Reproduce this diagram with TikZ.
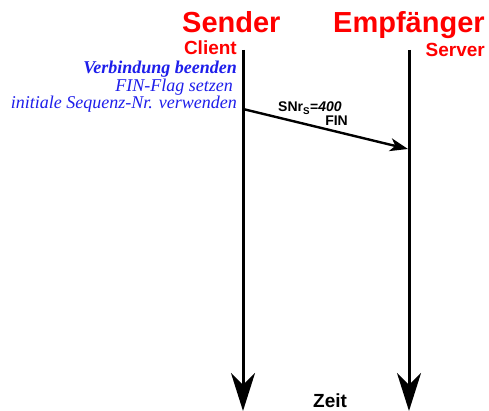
\documentclass[tikz,border=0pt]{standalone}
\usepackage{fontspec}
\setmainfont{Liberation Serif}
\setsansfont{Liberation Sans}
\usetikzlibrary{arrows.meta}
\definecolor{hdred}{RGB}{255,0,0}
\definecolor{txtblue}{RGB}{30,30,235}
\begin{document}
\begin{tikzpicture}[x=1pt,y=-1pt,
  lifeline/.style={line width=3pt,-{Stealth[length=38pt,width=24pt,inset=12pt]}},
  msg/.style={line width=2.4pt,-{Stealth[length=18pt,width=13pt,inset=5pt]}},
  head/.style={text=hdred,font=\sffamily\bfseries\fontsize{29}{32}\selectfont,inner sep=0pt},
  sub/.style={text=hdred,font=\sffamily\bfseries\fontsize{19}{21}\selectfont,inner sep=0pt},
  note/.style={text=txtblue,font=\itshape\fontsize{18}{20}\selectfont,inner sep=0pt,anchor=base east},
  lbl/.style={font=\sffamily\bfseries\fontsize{14}{16}\selectfont,inner sep=0pt}]
\useasboundingbox (0,0) rectangle (489,411);
\fill[white] (0,0) rectangle (489,411);
\coordinate (stop) at (243,50);
\coordinate (sbot) at (243,411);
\coordinate (rtop) at (409,50);
\coordinate (rbot) at (409,411);
\coordinate (mstart) at (243,109);
\coordinate (mend) at (408,149);
\draw[lifeline] (stop) -- (sbot);
\draw[lifeline] (rtop) -- (rbot);
\draw[msg] (mstart) -- (mend);
\node[head,anchor=base west] (sender) at (182,33) {Sender};
\node[head,anchor=base west] (empf) at (333,33) {Empfänger};
\node[sub,anchor=base east] (client) at (237,55) {Client};
\node[sub,anchor=base east] (server) at (485,57) {Server};
\node[note,font=\bfseries\itshape\fontsize{18}{20}\selectfont] (n1) at (237,74) {Verbindung beenden};
\node[note] (n2) at (233,92) {FIN-Flag setzen};
\node[note] (n3) at (237,109) {initiale Sequenz-Nr. verwenden};
\node[lbl,anchor=base west] (snr) at (278,112) {SNr\textsubscript{S}=\textit{400}};
\node[lbl,anchor=base east] (fin) at (348,126) {FIN};
\node[sub,text=black,anchor=base west] (zeit) at (313,407) {Zeit};
\end{tikzpicture}
\end{document}
